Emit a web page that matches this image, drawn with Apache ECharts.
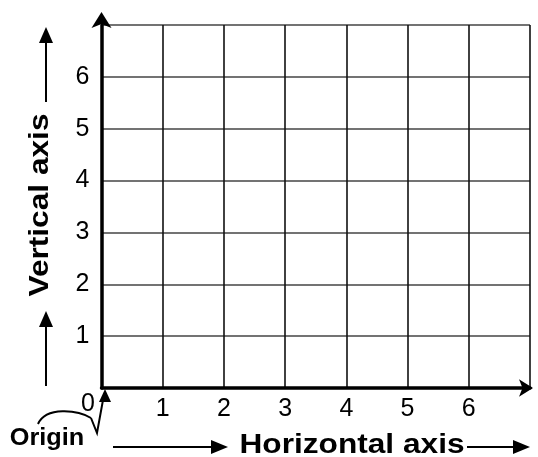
<!DOCTYPE html>
<html>
<head>
<meta charset="utf-8">
<script src="https://cdn.jsdelivr.net/npm/echarts@6/dist/echarts.min.js"></script>
<style>
    html,body{margin:0;padding:0;background:#fff;}
    #main{width:538px;height:457px;}
</style>
</head>
<body>
<div id="main"></div>
<script>
    // axis data
    var xTicks = [1, 2, 3, 4, 5, 6]
    var yTicks = [1, 2, 3, 4, 5, 6]
    var axisMin = 0
    var axisMax = 7
    var xTitle = 'Horizontal axis'
    var yTitle = 'Vertical axis'
    var originText = 'Origin'
    var originLabel = '0'

    var font = 'Liberation Sans, Arial, sans-serif'
    var myChart = echarts.init(document.getElementById('main'))

    function arrowHead(x, y, dir, len, half) {
        // dir: 'up' | 'right'
        var pts
        if (dir == 'up') {
            pts = [[x, y], [x - half, y + len], [x + half, y + len]]
        } else {
            pts = [[x, y], [x - len, y - half], [x - len, y + half]]
        }
        return {type: 'polygon', shape: {points: pts}, style: {fill: '#000'}}
    }
    function line(x1, y1, x2, y2, w) {
        return {type: 'line', shape: {x1: x1, y1: y1, x2: x2, y2: y2}, style: {stroke: '#000', lineWidth: w || 2}}
    }

    var graphics = [
        // vertical title with arrows
        {
            type: 'text', x: 40, y: 205, rotation: Math.PI / 2, scaleX: 1.13,
            style: {text: yTitle, font: 'bold 28px ' + font, fill: '#000', align: 'center', verticalAlign: 'middle'}
        },
        line(46, 102, 46, 40), arrowHead(46, 27, 'up', 16, 7),
        line(46, 386, 46, 325), arrowHead(46, 311, 'up', 16, 7),
        // horizontal title with arrows
        {
            type: 'text', x: 352, y: 445, scaleX: 1.13,
            style: {text: xTitle, font: 'bold 28px ' + font, fill: '#000', align: 'center', verticalAlign: 'middle'}
        },
        line(113, 447, 212, 447), arrowHead(228, 447, 'right', 17, 7),
        line(467, 447, 514, 447), arrowHead(530, 447, 'right', 17, 7),
        // origin label and curved arrow
        {
            type: 'text', x: 47, y: 439, scaleX: 1.1,
            style: {text: originText, font: 'bold 23px ' + font, fill: '#000', align: 'center', verticalAlign: 'middle'}
        },
        {
            type: 'text', x: 88, y: 404,
            style: {text: originLabel, font: '25px ' + font, fill: '#000', align: 'center', verticalAlign: 'middle'}
        },
        {
            type: 'bezierCurve',
            shape: {x1: 38, y1: 424, cpx1: 46, cpy1: 406, cpx2: 78, cpy2: 410, x2: 91, y2: 418},
            style: {stroke: '#000', lineWidth: 2, fill: null}
        },
        {
            type: 'polyline', shape: {points: [[91, 418], [97, 433], [103, 400]]},
            style: {stroke: '#000', lineWidth: 2, fill: null}
        },
        arrowHead(105, 389, 'up', 13, 6)
    ]

    var option = {
        animation: false,
        grid: {left: 101.5, right: 8, top: 25, bottom: 69},
        xAxis: {
            type: 'value', min: axisMin, max: axisMax, interval: 1,
            axisLine: {
                show: true, onZero: false, symbol: ['none', 'arrow'], symbolSize: [13, 14], symbolOffset: [0, 3],
                lineStyle: {color: '#000', width: 3.5}
            },
            axisTick: {show: false},
            splitLine: {show: true, lineStyle: {color: '#111', width: 1.6}},
            axisLabel: {
                margin: 9, fontSize: 25, fontFamily: font, color: '#000',
                formatter: function (v) { return xTicks.indexOf(v) >= 0 ? String(v) : '' }
            }
        },
        yAxis: {
            type: 'value', min: axisMin, max: axisMax, interval: 1,
            axisLine: {
                show: true, onZero: false, symbol: ['none', 'arrow'], symbolSize: [15, 16], symbolOffset: [0, 13],
                lineStyle: {color: '#000', width: 3.5}
            },
            axisTick: {show: false},
            splitLine: {show: true, lineStyle: {color: '#444', width: 1.6}},
            axisLabel: {
                margin: 12, fontSize: 25, fontFamily: font, color: '#000',
                formatter: function (v) { return yTicks.indexOf(v) >= 0 ? String(v) : '' }
            }
        },
        series: [{type: 'scatter', data: []}],
        graphic: graphics
    }
    myChart.setOption(option)
</script>
</body>
</html>
